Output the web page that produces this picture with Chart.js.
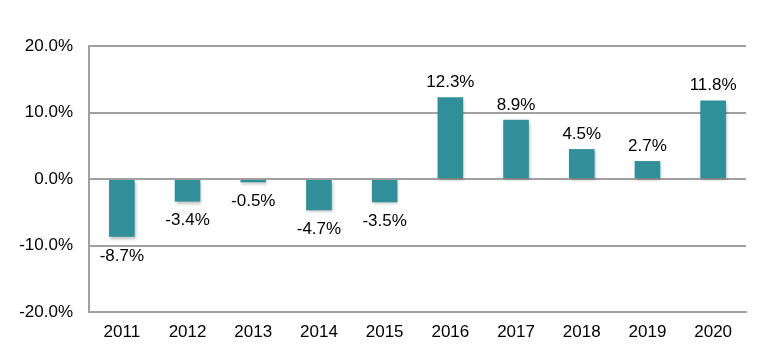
<!DOCTYPE html>
<html>
<head>
<meta charset="utf-8">
<script src="https://cdn.jsdelivr.net/npm/chart.js@4"></script>
<style>
  html, body { margin: 0; padding: 0; background: #fff; }
  #wrap { width: 772px; height: 363px; }
</style>
</head>
<body>
<div id="wrap"><canvas id="growthChart"></canvas></div>
<script>
// Annual change, %
const years = ['2011', '2012', '2013', '2014', '2015', '2016', '2017', '2018', '2019', '2020'];
const changes = [-8.7, -3.4, -0.5, -4.7, -3.5, 12.3, 8.9, 4.5, 2.7, 11.8];
const yTicks = [-20, -10, 0, 10, 20];

const FONT = 'Arial, "Liberation Sans", sans-serif';

// soft drop shadow under the bars
const barShadow = {
    id: 'barShadow',
    beforeDatasetsDraw(chart) {
        const ctx = chart.ctx;
        ctx.save();
        ctx.shadowColor = 'rgba(0, 0, 0, 0.25)';
        ctx.shadowBlur = 3;
        ctx.shadowOffsetX = 1;
        ctx.shadowOffsetY = 2;
    },
    afterDatasetsDraw(chart) {
        chart.ctx.restore();
    }
};

// value labels above positive bars, below negative ones
const valueLabels = {
    id: 'valueLabels',
    afterDraw(chart) {
        const ctx = chart.ctx;
        const meta = chart.getDatasetMeta(0);
        ctx.save();
        ctx.font = '17px ' + FONT;
        ctx.fillStyle = '#000';
        ctx.textAlign = 'center';
        ctx.textBaseline = 'middle';
        meta.data.forEach((bar, i) => {
            const v = changes[i];
            const y = v >= 0 ? bar.y - 15 : bar.y + 19;
            ctx.fillText(v.toFixed(1) + '%', bar.x, y);
        });
        ctx.restore();
    }
};

new Chart(document.getElementById('growthChart'), {
    type: 'bar',
    data: {
        labels: years,
        datasets: [{
            data: changes,
            backgroundColor: '#318f9a',
            borderWidth: 0,
            categoryPercentage: 1,
            barPercentage: 0.39
        }]
    },
    options: {
        responsive: true,
        maintainAspectRatio: false,
        animation: false,
        layout: { padding: { top: 46, right: 26, bottom: 12, left: 0 } },
        plugins: {
            legend: { display: false },
            tooltip: { enabled: false }
        },
        scales: {
            x: {
                grid: { display: false },
                border: { display: true, color: '#a0a0a0', width: 2 },
                ticks: { color: '#000', font: { family: FONT, size: 17 }, padding: 2, maxRotation: 0 },
                afterFit(scale) { scale.height = 39; }
            },
            y: {
                min: -20,
                max: 20,
                afterBuildTicks(scale) { scale.ticks = yTicks.map(v => ({ value: v })); },
                grid: { color: '#a0a0a0', lineWidth: 2, drawTicks: false },
                border: { display: true, color: '#a0a0a0', width: 2 },
                ticks: {
                    color: '#000',
                    font: { family: FONT, size: 17 },
                    padding: 16,
                    callback: v => v.toFixed(1) + '%'
                },
                afterFit(scale) { scale.width = 89; }
            }
        }
    },
    plugins: [barShadow, valueLabels]
});
</script>
</body>
</html>
